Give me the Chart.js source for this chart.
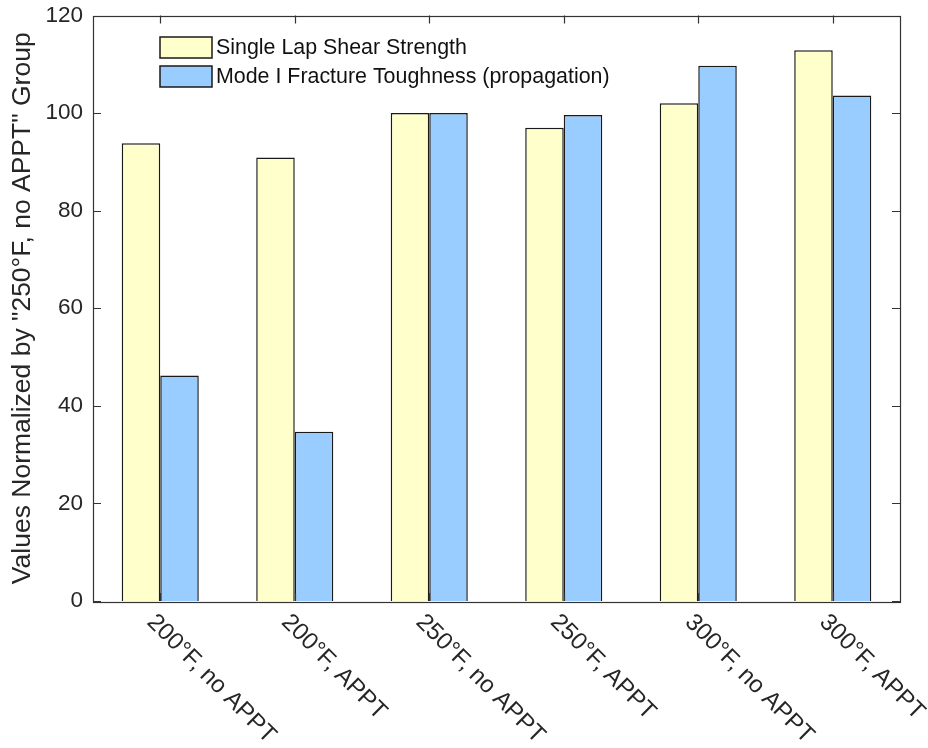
<!DOCTYPE html>
<html>
<head>
<meta charset="utf-8">
<script src="https://cdn.jsdelivr.net/npm/chart.js@4.4.1/dist/chart.umd.min.js"></script>
<style>
    body { margin: 0; background: #fff; }
    #wrap { width: 928px; height: 748px; }
</style>
</head>
<body>
<div id="wrap"><canvas id="chart" width="928" height="748"></canvas></div>
<script>
const categories = ['200°F, no APPT', '200°F, APPT', '250°F, no APPT', '250°F, APPT', '300°F, no APPT', '300°F, APPT'];
const shearStrength = [93.8, 90.9, 100, 97.0, 102.0, 112.9];
const fractureToughness = [46.2, 34.7, 100, 99.6, 109.7, 103.6];
const yTicks = [0, 20, 40, 60, 80, 100, 120];

const FONT = '"Liberation Sans", Arial, Helvetica, sans-serif';
const TEXT = '#262626';
const AXIS = '#333333';

// box + inward ticks, like a matlab axes
const framePlugin = {
    id: 'frame',
    afterDatasetsDraw(chart) {
        const { ctx, chartArea: a, scales } = chart;
        const len = 8;
        ctx.save();
        ctx.strokeStyle = AXIS;
        ctx.lineWidth = 1.2;
        ctx.beginPath();
        yTicks.forEach((v) => {
            const y = Math.round(scales.y.getPixelForValue(v)) + 0.5;
            ctx.moveTo(a.left, y); ctx.lineTo(a.left + len, y);
            ctx.moveTo(a.right, y); ctx.lineTo(a.right - len, y);
        });
        categories.forEach((c, i) => {
            const x = Math.round(scales.x.getPixelForValue(i)) + 0.5;
            ctx.moveTo(x, a.top); ctx.lineTo(x, a.top + len);
            ctx.moveTo(x, a.bottom); ctx.lineTo(x, a.bottom - len);
        });
        ctx.stroke();
        ctx.strokeRect(Math.round(a.left) + 0.5, Math.round(a.top) + 0.5,
            Math.round(a.right - a.left), Math.round(a.bottom - a.top));
        ctx.restore();
    }
};

// rotated category labels
const xLabelPlugin = {
    id: 'xlabels',
    afterDraw(chart) {
        const { ctx, chartArea: a, scales } = chart;
        ctx.save();
        ctx.fillStyle = TEXT;
        ctx.font = '24px ' + FONT;
        ctx.textAlign = 'left';
        ctx.textBaseline = 'top';
        chart.data.labels.forEach((label, i) => {
            const x = scales.x.getPixelForValue(i);
            ctx.save();
            ctx.translate(x - 1, a.bottom + 9);
            ctx.rotate(Math.PI / 4);
            ctx.fillText(label, 0, 0);
            ctx.restore();
        });
        ctx.restore();
    }
};

// legend inside the axes, no outline
const legendPlugin = {
    id: 'innerLegend',
    afterDraw(chart) {
        const { ctx } = chart;
        ctx.save();
        ctx.font = '21.4px ' + FONT;
        ctx.textBaseline = 'middle';
        ctx.textAlign = 'left';
        chart.data.datasets.forEach((ds, i) => {
            const x = 160, y = 37 + i * 29;
            ctx.fillStyle = ds.backgroundColor;
            ctx.fillRect(x, y, 52, 21);
            ctx.strokeStyle = '#1a1a1a';
            ctx.lineWidth = 1.5;
            ctx.strokeRect(x, y, 52, 21);
            ctx.fillStyle = '#111';
            ctx.fillText(ds.label, x + 56, y + 11);
        });
        ctx.restore();
    }
};

new Chart(document.getElementById('chart'), {
    type: 'bar',
    data: {
        labels: categories,
        datasets: [
            {
                label: 'Single Lap Shear Strength',
                data: shearStrength,
                backgroundColor: '#FFFFCC',
                borderColor: '#1a1a1a',
                borderWidth: 1.5,
                borderSkipped: 'bottom'
            },
            {
                label: 'Mode I Fracture Toughness (propagation)',
                data: fractureToughness,
                backgroundColor: '#99CCFF',
                borderColor: '#1a1a1a',
                borderWidth: 1.5,
                borderSkipped: 'bottom'
            }
        ]
    },
    options: {
        responsive: false,
        animation: false,
        layout: { padding: { left: 0, top: 12, right: 28, bottom: 147 } },
        datasets: { bar: { categoryPercentage: 0.573, barPercentage: 1 } },
        plugins: {
            legend: { display: false },
            tooltip: { enabled: false }
        },
        scales: {
            x: { display: false },
            y: {
                min: 0,
                max: 120,
                afterFit: (scale) => { scale.width = 93; },
                afterBuildTicks: (scale) => { scale.ticks = yTicks.map((v) => ({ value: v })); },
                grid: { display: false },
                border: { display: false },
                ticks: { color: TEXT, font: { family: FONT, size: 22.5 }, padding: 2 },
                title: {
                    display: true,
                    text: 'Values Normalized by "250°F, no APPT" Group',
                    color: TEXT,
                    font: { family: FONT, size: 26.5 },
                    padding: { top: 7, bottom: 0 }
                }
            }
        }
    },
    plugins: [framePlugin, xLabelPlugin, legendPlugin]
});
</script>
</body>
</html>
